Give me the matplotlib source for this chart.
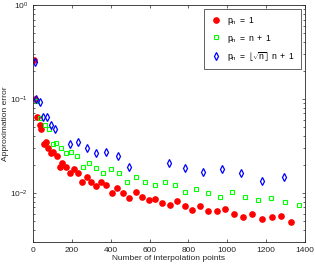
import matplotlib
matplotlib.use("Agg")
import matplotlib.pyplot as plt
from matplotlib.ticker import LogLocator, NullFormatter, MultipleLocator

plt.rcParams['font.family'] = ['Liberation Sans', 'DejaVu Sans']
plt.rcParams['mathtext.fontset'] = 'custom'
plt.rcParams['mathtext.rm'] = 'Liberation Sans'
plt.rcParams['mathtext.it'] = 'Liberation Sans'

red_x = [5, 9, 22, 36, 43, 57, 67, 77, 91, 105, 122, 137, 149, 171, 190, 209, 231, 252, 276, 300,
         324, 348, 377, 407, 434, 465, 496, 528, 561, 597, 628, 665, 705, 742, 782, 820, 860, 902,
         946, 988, 1035, 1083, 1129, 1177, 1229, 1279, 1326]
red_y = [0.26, 0.099, 0.064, 0.053, 0.0476, 0.0332, 0.0351, 0.0299, 0.0264, 0.0275, 0.0248, 0.019,
         0.021, 0.0188, 0.0164, 0.018, 0.0164, 0.0132, 0.0149, 0.0132, 0.0119, 0.0132, 0.0121, 0.0099,
         0.0112, 0.0099, 0.0089, 0.0102, 0.0091, 0.0083, 0.0087, 0.0078, 0.0074, 0.0082, 0.0073,
         0.0065, 0.0073, 0.0064, 0.0064, 0.0068, 0.0059, 0.0055, 0.0060, 0.0053, 0.0056, 0.0057, 0.0049]

green_x = [21, 36, 63, 80, 101, 118, 142, 170, 194, 225, 256, 288, 323, 359, 400, 441, 486, 530,
           575, 626, 678, 729, 784, 840, 900, 963, 1024, 1091, 1158, 1227, 1299, 1371]
green_y = [0.094, 0.063, 0.053, 0.0476, 0.0332, 0.0343, 0.0299, 0.0264, 0.0275, 0.0248, 0.019,
           0.0207, 0.0186, 0.0162, 0.0181, 0.0164, 0.0132, 0.0146, 0.0132, 0.0120, 0.0132, 0.0120,
           0.0101, 0.0110, 0.0100, 0.0091, 0.0103, 0.0091, 0.0083, 0.0088, 0.0079, 0.0074]

blue_x = [9, 15, 36, 50, 70, 91, 115, 190, 231, 276, 326, 377, 435, 496, 698, 784, 877, 971,
          1072, 1177, 1290]
blue_y = [0.246, 0.099, 0.092, 0.064, 0.064, 0.053, 0.0476, 0.0332, 0.0346, 0.0299, 0.0264,
          0.0275, 0.0248, 0.019, 0.0208, 0.0186, 0.0166, 0.018, 0.0164, 0.0133, 0.0146]

labels = [r'$\mathregular{p_n\ =\ 1}$',
          r'$\mathregular{p_n\ =\ n\ +\ 1}$',
          r'$\mathregular{p_n\ =\ \lfloor\sqrt{n}\rfloor\ n\ +\ 1}$']

fig = plt.figure(figsize=(3.15, 2.69), dpi=100)
ax = fig.add_axes([0.105, 0.1004, 0.863, 0.881])

ax.plot(red_x, red_y, linestyle='none', marker='o', markersize=3.8, color='#ff0000',
        markeredgecolor='#ff0000', label=labels[0])
ax.plot(green_x, green_y, linestyle='none', marker='s', markersize=3.0, color='#00ff00',
        markerfacecolor='none', markeredgewidth=0.8, label=labels[1])
ax.plot(blue_x, blue_y, linestyle='none', marker='d', markersize=4.0, color='#0000ff',
        markerfacecolor='none', markeredgewidth=0.9, label=labels[2])

ax.set_yscale('log')
ax.set_xlim(0, 1400)
ax.set_ylim(3e-3, 1)
ax.xaxis.set_major_locator(MultipleLocator(200))
ax.yaxis.set_major_locator(LogLocator(base=10, numticks=10))
ax.yaxis.set_minor_locator(LogLocator(base=10, subs=range(2, 10), numticks=20))
ax.yaxis.set_minor_formatter(NullFormatter())

ax.tick_params(which='both', direction='in', top=True, right=True, labelsize=6,
               color='#262626', labelcolor='#262626', width=0.5)
ax.tick_params(which='major', length=2.5)
ax.tick_params(which='minor', length=1.5)
for s in ax.spines.values():
    s.set_linewidth(0.6)
    s.set_color('#262626')

ax.set_xlabel('Number of interpolation points', fontsize=6, color='#262626', labelpad=1)
ax.set_ylabel('Approximation error', fontsize=6, color='#262626', labelpad=1)

leg = ax.legend(loc='upper right', fontsize=6.2, frameon=True, fancybox=False,
                edgecolor='#262626', framealpha=1, borderaxespad=0.5, handlelength=1.3,
                handletextpad=0.6, borderpad=0.7, labelspacing=0.6)
leg.get_frame().set_linewidth(0.5)

fig.savefig('out.png', dpi=100)
